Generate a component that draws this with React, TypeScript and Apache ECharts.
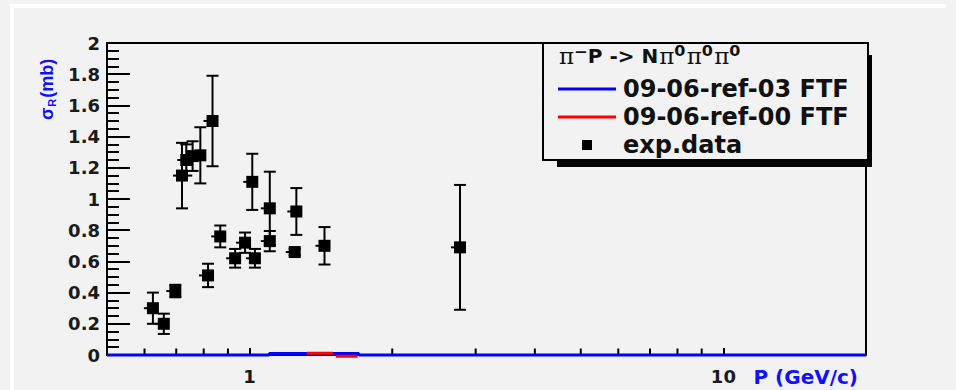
import React, { useEffect, useRef } from 'react';
import * as echarts from 'echarts';

// experimental data: momentum (GeV/c), cross-section (mb), error (mb)
const expP = [0.625, 0.659, 0.697, 0.72, 0.735, 0.758, 0.787, 0.817, 0.835, 0.867, 0.932, 0.978, 1.013, 1.026, 1.103, 1.103, 1.245, 1.255, 1.439, 2.78];
const expSigma = [0.30, 0.20, 0.41, 1.15, 1.25, 1.275, 1.28, 0.51, 1.50, 0.76, 0.62, 0.72, 1.11, 0.62, 0.73, 0.94, 0.66, 0.92, 0.70, 0.69];
const expErr = [0.10, 0.065, 0.04, 0.21, 0.10, 0.095, 0.18, 0.075, 0.29, 0.07, 0.06, 0.065, 0.18, 0.06, 0.065, 0.235, 0.02, 0.15, 0.12, 0.40];

// model curves (essentially zero)
const ref03P = [0.5, 1.1, 1.1, 1.7, 1.7, 20];
const ref03Sigma = [0, 0, 0.01, 0.01, 0, 0];
const ref00P = [1.32, 1.5, 1.51, 1.52, 1.69];
const ref00Sigma: (number | null)[] = [0.011, 0.011, null, -0.008, -0.008];

// log-axis minor tick positions
const minorTickP = [0.6, 0.7, 0.8, 0.9, 2, 3, 4, 5, 6, 7, 8, 9];

const NAME03 = '09-06-ref-03 FTF';
const NAME00 = '09-06-ref-00 FTF';
const NAMEEXP = 'exp.data';

export default function App() {
  const ref = useRef<HTMLDivElement>(null);
  useEffect(() => {
    if (!ref.current) return;
    const chart = echarts.init(ref.current, undefined, { renderer: 'svg' });
    const expData = expP.map((p, i) => [p, expSigma[i], expErr[i]]);
    const lineIcon = 'path://M0 0H58V3H0Z';
    const option: any = {
      animation: false,
      backgroundColor: '#f2f2f2',
      grid: {
        left: 107, right: 90, top: 43, bottom: 35,
        show: true, borderColor: '#000', borderWidth: 2, backgroundColor: 'transparent',
      },
      xAxis: {
        type: 'log', logBase: 10, min: 0.5, max: 20,
        name: 'P (GeV/c)', nameLocation: 'end', nameGap: 0, nameMoveOverlap: false,
        nameTextStyle: {
          color: '#1010ff', fontFamily: 'DejaVu Sans', fontWeight: 'bold', fontSize: 20,
          align: 'right', verticalAlign: 'top', padding: [12, 8, 0, 0],
        },
        axisLine: { show: true, lineStyle: { color: '#000', width: 2 } },
        axisTick: { show: true, inside: true, length: 7, lineStyle: { color: '#000', width: 2 } },
        axisLabel: {
          showMinLabel: false, showMaxLabel: false, margin: 12,
          color: '#1a1a1a', fontFamily: 'DejaVu Sans', fontWeight: 'bold', fontSize: 18,
        },
        splitLine: { show: false },
      },
      yAxis: {
        type: 'value', min: 0, max: 2, interval: 0.2,
        name: '{a|σ}{r|R}{a|(mb)}', nameLocation: 'end', nameRotate: 90, nameGap: -77, nameMoveOverlap: false,
        nameTextStyle: {
          color: '#1010ff', align: 'left', verticalAlign: 'bottom', padding: [0, 0, 50, 0],
          rich: {
            a: { color: '#1010ff', fontFamily: 'Liberation Sans', fontWeight: 'bold', fontSize: 18 },
            r: { color: '#1010ff', fontFamily: 'Liberation Sans', fontWeight: 'bold', fontSize: 11, verticalAlign: 'bottom', padding: [9, 1, 0, 1] },
          },
        },
        axisLine: { show: true, lineStyle: { color: '#000', width: 2 } },
        axisTick: { show: true, inside: true, length: 23, lineStyle: { color: '#000', width: 2 } },
        minorTick: { show: true, splitNumber: 4, length: 12, lineStyle: { color: '#000', width: 2 } },
        axisLabel: {
          margin: 7, color: '#1a1a1a', fontFamily: 'DejaVu Sans', fontWeight: 'bold', fontSize: 18,
        },
        splitLine: { show: false },
        minorSplitLine: { show: false },
      },
      legend: {
        data: [
          { name: NAME03, icon: lineIcon, itemStyle: { color: '#0000ff' } },
          { name: NAME00, icon: lineIcon, itemStyle: { color: '#ff0000' } },
          { name: NAMEEXP, icon: 'path://M0 0H10V10H0Z', itemStyle: { color: '#000', opacity: 1 } },
        ],
        orient: 'vertical', left: 553, top: 70,
        itemWidth: 58, itemHeight: 10, itemGap: 0,
        textStyle: {
          color: '#111', fontFamily: 'DejaVu Sans', fontWeight: 'bold', fontSize: 24, lineHeight: 28,
          padding: [0, 0, 0, 2],
        },
        selectedMode: false,
        z: 6,
      },
      graphic: [
        { type: 'rect', shape: { x: 10, y: 4, width: 936, height: 4 }, style: { fill: '#ffffff' }, z: 0, silent: true },
        { type: 'rect', shape: { x: 10, y: 4, width: 4, height: 386 }, style: { fill: '#ffffff' }, z: 0, silent: true },
        { type: 'rect', shape: { x: 557, y: 55, width: 315, height: 112 }, style: { fill: '#000' }, z: 4, silent: true },
        { type: 'rect', shape: { x: 543, y: 43, width: 325, height: 117 }, style: { fill: '#f2f2f2', stroke: '#000', lineWidth: 2 }, z: 5, silent: true },
        {
          type: 'text', x: 558, y: 56, z: 6, silent: true,
          style: {
            text: '{p|π}{s|⁻}{b|P -> N}{p|π}{s|⁰}{p|π}{s|⁰}{p|π}{s|⁰}',
            verticalAlign: 'middle', align: 'left',
            rich: {
              p: { fontFamily: 'DejaVu Serif', fontSize: 23, fill: '#111', padding: [0, 0, 0, 1] },
              s: { fontFamily: 'DejaVu Sans', fontWeight: 'bold', fontSize: 26, fill: '#111' },
              b: { fontFamily: 'DejaVu Sans', fontWeight: 'bold', fontSize: 20, fill: '#111' },
            },
          },
        },
      ],
      series: [
        {
          name: 'minor ticks', type: 'scatter', silent: true,
          data: minorTickP.map((p) => [p, 0]),
          symbol: 'rect', symbolSize: [2, 7], symbolOffset: [0, -3],
          itemStyle: { color: '#000', opacity: 1 }, z: 1,
        },
        {
          name: NAME03, type: 'line', showSymbol: false, symbol: 'none', clip: false,
          data: ref03P.map((p, i) => [p, ref03Sigma[i]]),
          lineStyle: { color: '#0000ff', width: 3 }, itemStyle: { color: '#0000ff' }, z: 3,
        },
        {
          name: NAME00, type: 'line', showSymbol: false, symbol: 'none', clip: false, connectNulls: false,
          data: ref00P.map((p, i) => [p, ref00Sigma[i]]),
          lineStyle: { color: '#ff0000', width: 3 }, itemStyle: { color: '#ff0000' }, z: 4,
        },
        {
          name: 'errors', type: 'custom', silent: true,
          data: expData,
          encode: { x: 0, y: 1 },
          renderItem: (params: any, api: any) => {
            const x = api.value(0), y = api.value(1), e = api.value(2);
            const c = api.coord([x, y]);
            const hi = api.coord([x, y + e]);
            const lo = api.coord([x, y - e]);
            const hw = 6;
            const style = { stroke: '#000', lineWidth: 2 };
            return {
              type: 'group',
              children: [
                { type: 'line', shape: { x1: hi[0], y1: hi[1], x2: lo[0], y2: lo[1] }, style },
                { type: 'line', shape: { x1: hi[0] - hw, y1: hi[1], x2: hi[0] + hw, y2: hi[1] }, style },
                { type: 'line', shape: { x1: lo[0] - hw, y1: lo[1], x2: lo[0] + hw, y2: lo[1] }, style },
                { type: 'line', shape: { x1: c[0] - 9, y1: c[1], x2: c[0], y2: c[1] }, style },
              ],
            };
          },
          z: 5,
        },
        {
          name: NAMEEXP, type: 'scatter',
          data: expData.map((d) => [d[0], d[1]]),
          symbol: 'rect', symbolSize: 12,
          itemStyle: { color: '#000', opacity: 1 }, z: 6,
        },
      ],
    };
    chart.setOption(option);
    return () => chart.dispose();
  }, []);
  return <div ref={ref} style={{ position: 'fixed', left: 0, top: 0, width: 956, height: 390 }} />;
}
